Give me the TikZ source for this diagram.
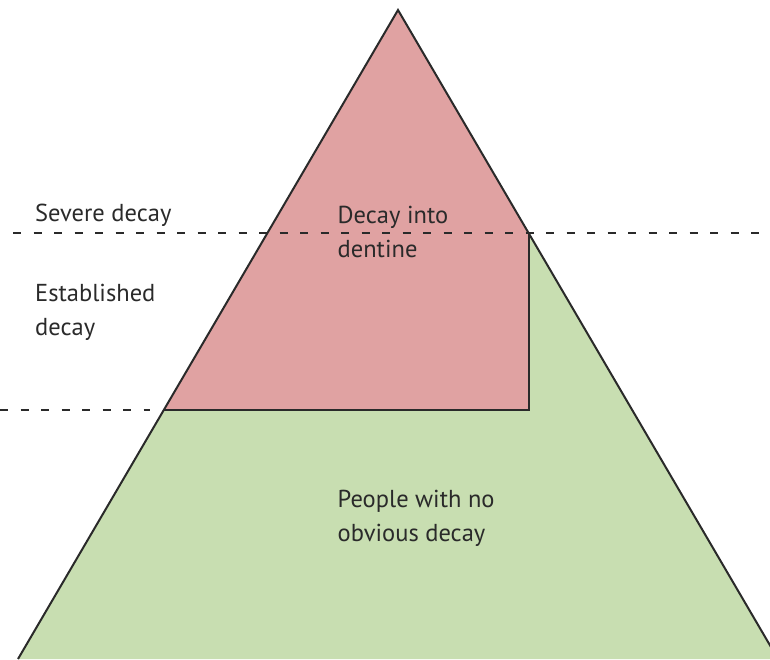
\documentclass[tikz,border=0pt]{standalone}
\usepackage{fontspec}
\setmainfont{PT Sans}
\usepackage{tikz}
\definecolor{decayred}{HTML}{E0A2A2}
\definecolor{soundgreen}{HTML}{C8DEB1}
\definecolor{ink}{HTML}{2A2A2A}
\tikzset{
  edge/.style={draw=ink,line width=2pt,line join=miter},
  levelline/.style={draw=ink,line width=1.8pt,dash pattern=on 8pt off 12.5pt},
  zonelabel/.style={anchor=north west,inner sep=0pt,align=left,text=ink,
    font=\fontsize{24.5}{34}\selectfont}
}
\begin{document}
\begin{tikzpicture}[x=1pt,y=-1pt]
  \useasboundingbox (0,0) rectangle (770,659);
  \clip (0,0) rectangle (770,659);
  \coordinate (apex) at (398,10);
  \coordinate (baseL) at (18,659);
  \coordinate (baseR) at (778,659);
  \coordinate (cornerT) at (528.5,233);
  \coordinate (cornerB) at (528.5,410);
  \coordinate (edgeB) at (163.5,410);
  \fill[soundgreen] (apex)--(baseR)--(baseL)--cycle;
  \fill[decayred] (apex)--(cornerT)--(cornerB)--(edgeB)--cycle;
  \draw[edge] (baseL)--(apex)--(baseR);
  \draw[edge] (cornerT)--(cornerB)--(edgeB);
  % level markers
  \draw[levelline] (13,233)--(770,233);
  \draw[levelline] (0,410)--(150,410);
  \node[zonelabel] (severe) at (35,204) {Severe decay};
  \node[zonelabel] (established) at (35,284) {Established\\decay};
  \node[zonelabel] (dentine) at (337.5,206) {Decay into\\dentine};
  \node[zonelabel] (sound) at (337.5,490) {People with no\\obvious decay};
\end{tikzpicture}
\end{document}
